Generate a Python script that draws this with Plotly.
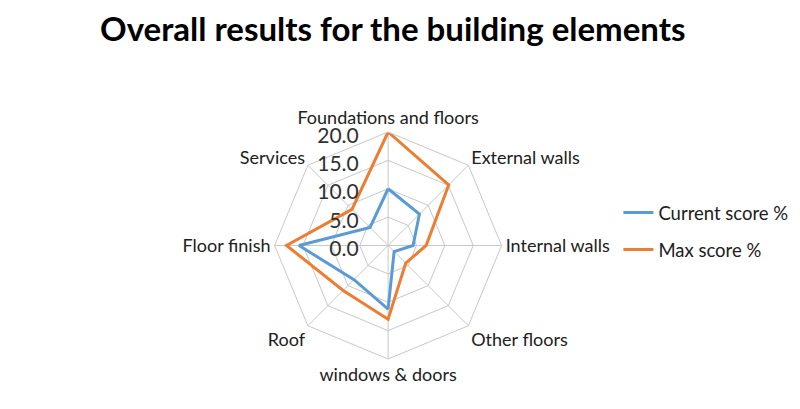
import plotly.graph_objects as go

categories = ["Foundations and floors", "External walls", "Internal walls", "Other floors",
              "windows & doors", "Roof", "Floor finish", "Services"]
current_score = [10.0, 7.8, 4.4, 1.5, 11.2, 8.5, 15.7, 4.5]
max_score = [20.0, 15.1, 6.7, 4.4, 13.0, 11.2, 17.9, 9.0]
radial_ticks = [0, 5, 10, 15, 20]

FONT = "Lato"

fig = go.Figure()
fig.add_trace(go.Scatterpolar(
    r=current_score + current_score[:1], theta=categories + categories[:1],
    mode="lines", name="Current score %", legendgroup="a",
    line=dict(color="#5b9bd5", width=3)))
fig.add_trace(go.Scatterpolar(
    r=max_score + max_score[:1], theta=categories + categories[:1],
    mode="lines", name="Max score %", legendgroup="b",
    line=dict(color="#ed7d31", width=3)))

dx = -7.5 / 800
dy = 7.5 / 409
fig.update_layout(
    width=800, height=409,
    margin=dict(l=0, r=0, t=0, b=0),
    paper_bgcolor="white", plot_bgcolor="white",
    font=dict(family=FONT, size=18, color="#404040"),
    title=dict(text="<b>Overall results for the building elements</b>",
               x=0.481, xanchor="center", y=0.976, yanchor="top",
               font=dict(family=FONT, size=33, color="black")),
    polar=dict(
        domain=dict(x=[0.3425 + dx, 0.6265 + dx], y=[0.1235 + dy, 0.6785 + dy]),
        bgcolor="white",
        gridshape="linear",
        radialaxis=dict(range=[0, 20], tickvals=radial_ticks, tickformat=".1f",
                        angle=90, side="counterclockwise", showline=False,
                        gridcolor="#c8c8c8", gridwidth=1,
                        ticks="outside", ticklen=10, tickcolor="rgba(0,0,0,0)",
                        tickfont=dict(family=FONT, size=21, color="#303030")),
        angularaxis=dict(direction="clockwise", rotation=90,
                         gridcolor="#c8c8c8", linecolor="#c8c8c8", linewidth=1,
                         ticks="", tickfont=dict(family=FONT, size=18, color="#202020")),
    ),
    legend=dict(x=0.763, y=0.4535, xanchor="left", yanchor="middle",
                font=dict(family=FONT, size=18.5, color="#202020"),
                tracegroupgap=10, bgcolor="rgba(0,0,0,0)"),
    showlegend=True,
)

fig.write_html("out.html")
